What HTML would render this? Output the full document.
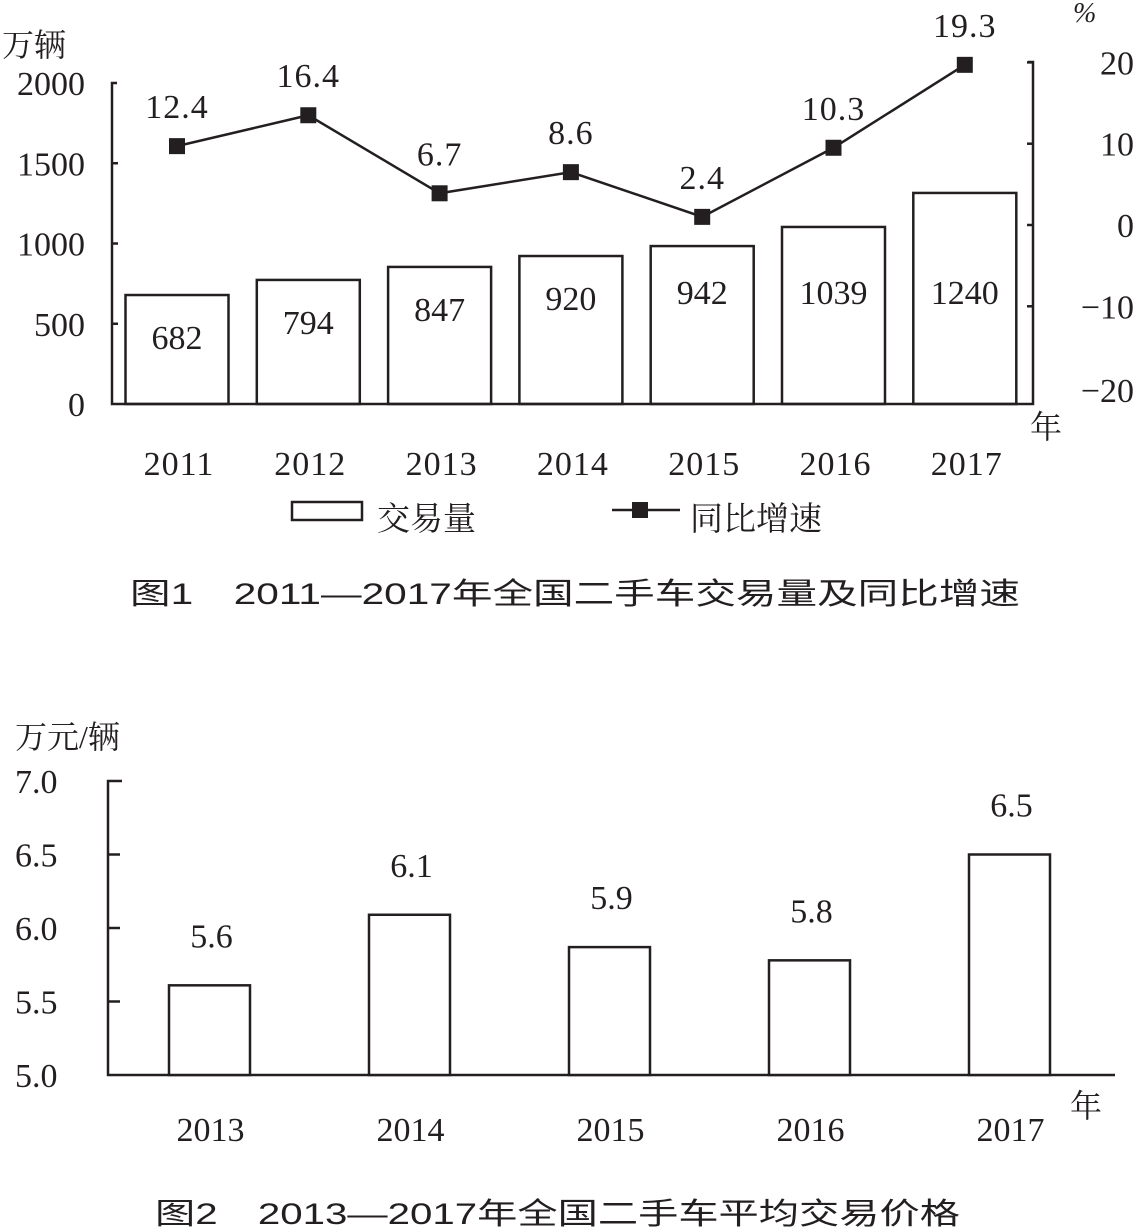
<!DOCTYPE html>
<html><head><meta charset="utf-8"><style>
html,body{margin:0;padding:0;background:#fff;}
svg{display:block;}
.n{font-family:"Liberation Serif","Noto Serif CJK SC",serif;fill:#231f20;}
.c{font-family:"Liberation Serif","Noto Serif CJK SC",serif;fill:#231f20;}
.cap{font-family:"Liberation Sans","Noto Sans CJK SC",sans-serif;fill:#231f20;}
</style></head><body>
<svg id="s" width="1134" height="1228" viewBox="0 0 1134 1228" xmlns="http://www.w3.org/2000/svg">
<g id="c1"></g>
<g id="c2"></g>
</svg>
<script>
// Chart 1 data
const years1 = ["2011","2012","2013","2014","2015","2016","2017"];
const volumeValues = [679, 773, 854, 922, 984, 1103, 1315];
const volumeLabels = ["682","794","847","920","942","1039","1240"];
const growthValues = [9.7, 13.5, 3.9, 6.5, 1.0, 9.5, 19.7];
const growthLabels = ["12.4","16.4","6.7","8.6","2.4","10.3","19.3"];
const leftTicks = [0, 500, 1000, 1500, 2000];
const rightTicks = [-20, -10, 0, 10, 20];
// Chart 2 data
const years2 = ["2013","2014","2015","2016","2017"];
const priceValues = [5.61, 6.09, 5.87, 5.78, 6.5];
const priceLabels = ["5.6","6.1","5.9","5.8","6.5"];
const priceTicks = ["5.0","5.5","6.0","6.5","7.0"];

const NS = "http://www.w3.org/2000/svg";
function mk(parent, tag, attrs, text){
  const e = document.createElementNS(NS, tag);
  for (const k in attrs) e.setAttribute(k, attrs[k]);
  if (text !== undefined) e.textContent = text;
  parent.appendChild(e); return e;
}
const c1 = document.getElementById('c1');
const c2 = document.getElementById('c2');

// ---- Chart 1 ----
const yL = v => 404 - v * (321/2000);
const yR = v => 225 - v * 8.13;
const x1 = i => 177 + i * 131.3;
const BW1 = 103;
const ST = {stroke:"#231f20","stroke-width":2.5,fill:"none"};

years1.forEach((y,i)=>{
  const top = yL(volumeValues[i]);
  const r = mk(c1,'rect',{x:x1(i)-BW1/2,y:top,width:BW1,height:404-top,fill:"#fff",stroke:"#231f20","stroke-width":2.5});
  
  
  const t = mk(c1,'text',{x:x1(i),y:Math.max(top+42,292)+12,"text-anchor":"middle","font-size":34,"class":"n"},volumeLabels[i]);
  
  
  const yl = mk(c1,'text',{x:x1(i)+2,y:475,"text-anchor":"middle","font-size":34,"class":"n","letter-spacing":"1"},y);
  
  
});
// axes
let a = mk(c1,'path',Object.assign({d:"M117 83 H112 V404 H1033 V62 H1028"},ST));


leftTicks.forEach(v=>{
  const yy = yL(v);
  if (v>0 && v<2000){ const tk = mk(c1,'line',{x1:112,x2:118,y1:yy,y2:yy,stroke:"#231f20","stroke-width":2.5});
    
     }
  const t = mk(c1,'text',{x:85,y:yy+12,"text-anchor":"end","font-size":34,"class":"n"},String(v));
  
  
});
rightTicks.forEach(v=>{
  const yy = yR(v);
  if (v>-20){ const tk = mk(c1,'line',{x1:1027,x2:1033,y1:yy,y2:yy,stroke:"#231f20","stroke-width":2.5});
    
     }
  const t = mk(c1,'text',{x:1134,y:(v===-20?390:yy)+12,"text-anchor":"end","font-size":34,"class":"n"},v<0?"−"+(-v):String(v));
  
  
});
// growth line
const pts = growthValues.map((v,i)=>x1(i)+","+yR(v)).join(" ");
const pl = mk(c1,'polyline',{points:pts,fill:"none",stroke:"#231f20","stroke-width":2.5});


growthValues.forEach((v,i)=>{
  const yy = yR(v);
  const m = mk(c1,'rect',{x:x1(i)-8,y:yy-8,width:16,height:16,fill:"#231f20"});
  
  
  const t = mk(c1,'text',{x:x1(i),y:yy-40+12,"text-anchor":"middle","font-size":34,"class":"n","letter-spacing":"1"},growthLabels[i]);
  
  
});
let t;
t = mk(c1,'text',{x:2,y:56,"font-size":32,"class":"c"},"万辆");
 
t = mk(c1,'text',{x:1073,y:22,"font-size":28,"class":"n","font-style":"italic"},"%");
 
t = mk(c1,'text',{x:1030,y:438,"font-size":32,"class":"c"},"年");
 
// legend
t = mk(c1,'rect',{x:292,y:502,width:70,height:18,fill:"#fff",stroke:"#231f20","stroke-width":2.5});
 
t = mk(c1,'text',{x:377,y:530,"font-size":33,"class":"c"},"交易量");
 
t = mk(c1,'line',{x1:612,x2:680,y1:510,y2:510,stroke:"#231f20","stroke-width":2.5});
 
t = mk(c1,'rect',{x:632,y:502,width:16,height:16,fill:"#231f20"});
 
t = mk(c1,'text',{x:690,y:530,"font-size":33,"class":"c"},"同比增速");
 
t = mk(c1,'text',{x:130,y:604,"font-size":30,"class":"cap",textLength:890,lengthAdjust:"spacingAndGlyphs"},"图1　2011—2017年全国二手车交易量及同比增速");
 

// ---- Chart 2 ----
const y2 = v => 1075 - (v - 5) * 147;
const x2 = i => 209.5 + i * 200;
const BW2 = 81;
a = mk(c2,'path',Object.assign({d:"M122 781 H108 V1075 H1115"},ST));


priceTicks.forEach(s=>{
  const yy = y2(parseFloat(s));
  if (parseFloat(s)>5 && parseFloat(s)<7){ const tk = mk(c2,'line',{x1:108,x2:120,y1:yy,y2:yy,stroke:"#231f20","stroke-width":2.5});
    
     }
  const tt = mk(c2,'text',{x:15,y:yy+12,"font-size":34,"class":"n"},s);
  
  
});
years2.forEach((y,i)=>{
  const top = y2(priceValues[i]);
  const r = mk(c2,'rect',{x:x2(i)-BW2/2,y:top,width:BW2,height:1075-top,fill:"#fff",stroke:"#231f20","stroke-width":2.5});
  
  
  const tl = mk(c2,'text',{x:x2(i)+2,y:top-50+12,"text-anchor":"middle","font-size":34,"class":"n"},priceLabels[i]);
  
  
  const yl = mk(c2,'text',{x:x2(i)+1,y:1141,"text-anchor":"middle","font-size":34,"class":"n"},y);
  
  
});
t = mk(c2,'text',{x:15,y:748,"font-size":32,"class":"c"},"万元/辆");
 
t = mk(c2,'text',{x:1070,y:1117,"font-size":32,"class":"c"},"年");
 
t = mk(c2,'text',{x:155,y:1224,"font-size":30,"class":"cap",textLength:805,lengthAdjust:"spacingAndGlyphs"},"图2　2013—2017年全国二手车平均交易价格");
 
</script>
</body></html>
